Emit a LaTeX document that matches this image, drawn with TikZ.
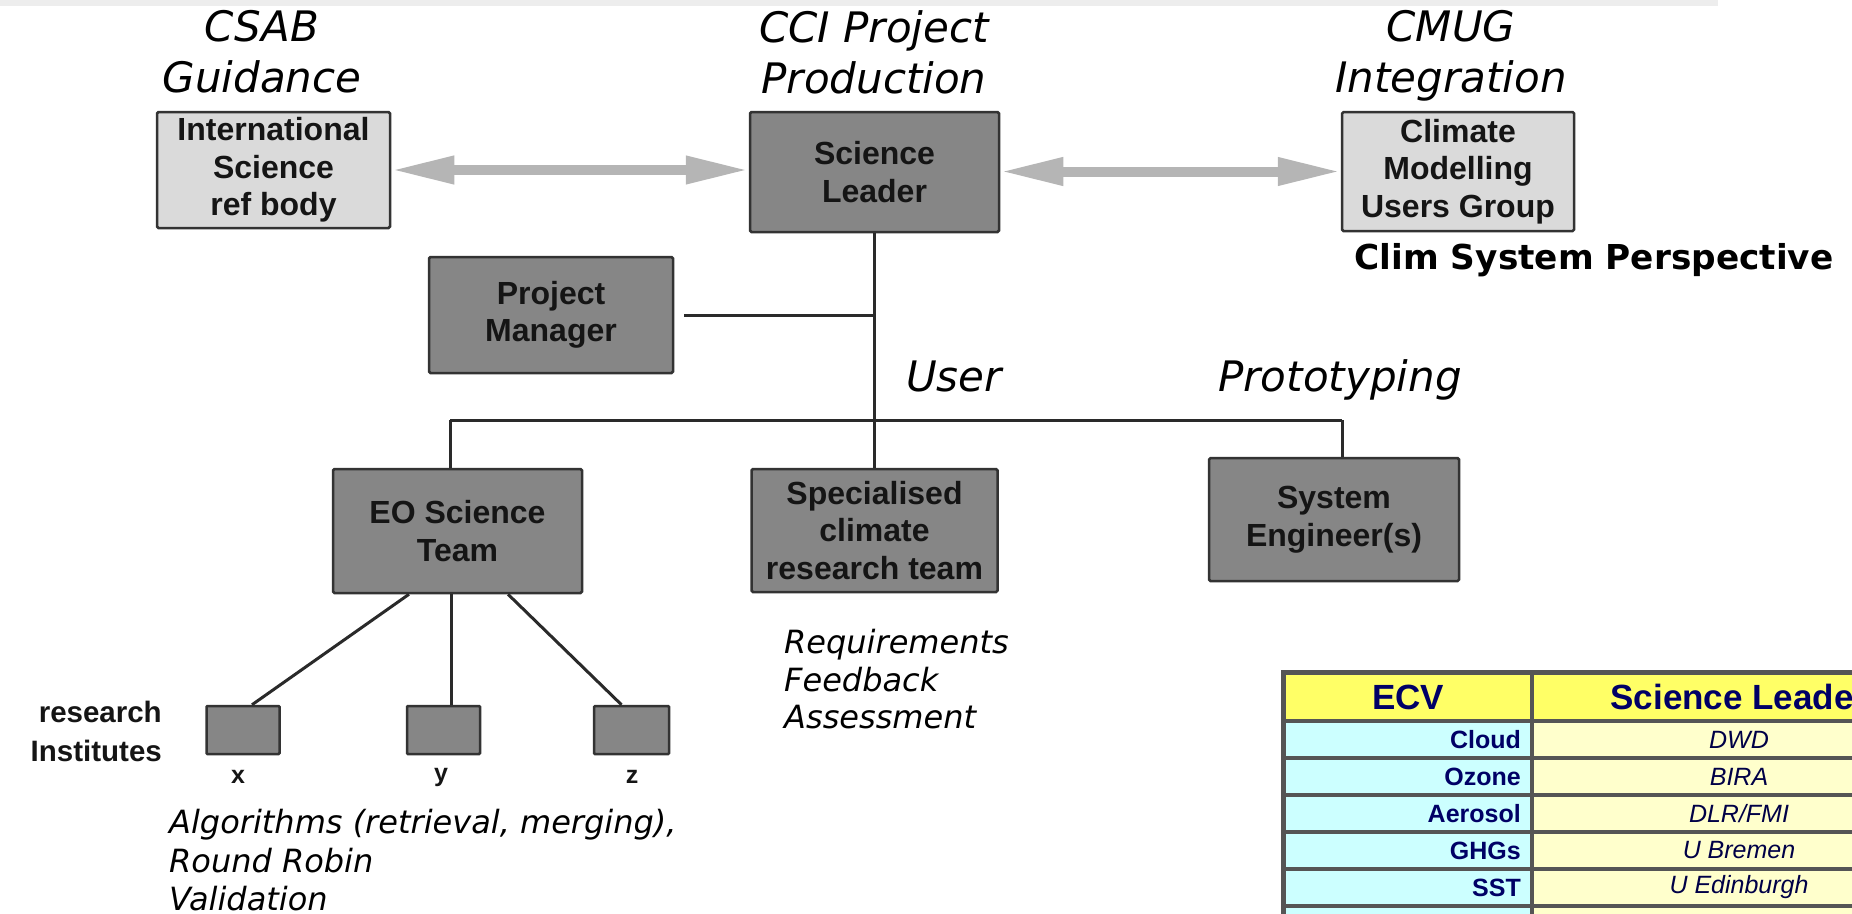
\documentclass[tikz,border=0pt]{standalone}
\usepackage{fontspec}
\setmainfont{Liberation Sans}
\newfontfamily\dvsans{DejaVu Sans}
\usetikzlibrary{arrows.meta}
\definecolor{boxdark}{HTML}{868686}
\definecolor{boxlight}{HTML}{DADADA}
\definecolor{edgecol}{HTML}{333333}
\definecolor{boxtext}{HTML}{151515}
\definecolor{linecol}{HTML}{2A2A2A}
\definecolor{arrowgray}{HTML}{B5B5B5}
\definecolor{hdryellow}{HTML}{FFFF66}
\definecolor{cellcyan}{HTML}{CCFFFF}
\definecolor{cellpale}{HTML}{FFFFCC}
\definecolor{navy}{HTML}{000066}
\definecolor{gridgray}{HTML}{555555}
\newcommand\bxfont{\fontsize{32}{37.5}\selectfont\bfseries}
\newcommand\mytitlefont{\dvsans\itshape\fontsize{42}{51}\selectfont}
\newcommand\mynotefont{\dvsans\itshape\fontsize{32}{37.5}\selectfont}
\newcommand\toprl[1]{\rule{0pt}{#1}}
\begin{document}
\begin{tikzpicture}[x=1pt,y=-1pt,
  darkbox/.style={draw=edgecol, fill=boxdark, line width=2.5pt, rounded corners=1.5pt,
    align=center, font=\bxfont, text=boxtext, inner sep=0pt},
  lightbox/.style={darkbox, fill=boxlight},
  smallbox/.style={draw=edgecol, fill=boxdark, line width=2.5pt, rounded corners=1pt,
    minimum width=73pt, minimum height=48pt, inner sep=0pt},
  titletext/.style={font=\mytitlefont, align=center, inner sep=0pt, anchor=north},
  notetext/.style={font=\mynotefont, align=left, inner sep=0pt, anchor=north west},
  conn/.style={draw=linecol, line width=3pt},
  dblarrow/.style={draw=arrowgray, line width=10pt,
    {Triangle[length=63pt,width=26pt]}-{Triangle[length=63pt,width=26pt]}},
  hdr/.style={font=\fontsize{35}{40}\selectfont\bfseries, text=navy, inner sep=0pt},
  ecvname/.style={font=\fontsize{25}{28}\selectfont\bfseries, text=navy, inner sep=0pt, anchor=east},
  leadername/.style={font=\fontsize{25}{28}\selectfont\itshape, text=navy!70!black, inner sep=0pt},
  xyz/.style={font=\fontsize{25}{28}\selectfont\bfseries, text=boxtext, inner sep=0pt}
]
\useasboundingbox (0,0) rectangle (1852,913);
\fill[black!7] (0,0) rectangle (1718,6);

% titles
\node[titletext] (csab) at (262,10) {\toprl{31pt}CSAB\\Guidance};
\node[titletext] (cci) at (874,10) {\toprl{31pt}CCI Project\\Production};
\node[titletext] (cmug) at (1451,10) {\toprl{31pt}CMUG\\Integration};

% top boxes
\node[lightbox, minimum width=233pt, minimum height=116pt] (intl) at (273.5,170)
  {International\\Science\\ref body};
\node[darkbox, minimum width=249pt, minimum height=120pt] (sl) at (874.5,172)
  {Science\\Leader};
\node[lightbox, minimum width=232pt, minimum height=119pt] (cmg) at (1458,171.5)
  {Climate\\Modelling\\Users Group};
\node[font=\dvsans\bfseries\fontsize{34.3}{38}\selectfont, inner sep=0pt, anchor=base] (clim)
  at (1594,269) {Clim System Perspective};

\draw[dblarrow] (intl.east) -- (intl.east -| sl.west);
\draw[dblarrow] (sl.east |- cmg.west) -- (cmg.west);

% project manager
\node[darkbox, minimum width=244pt, minimum height=116pt] (pm) at (551,315)
  {Project\\Manager};

% second level boxes
\node[darkbox, minimum width=249pt, minimum height=124pt] (eo) at (457.5,531)
  {EO Science\\Team};
\node[darkbox, minimum width=246pt, minimum height=123pt] (spec) at (874.5,530.5)
  {Specialised\\climate\\research team};
\node[darkbox, minimum width=250pt, minimum height=123pt] (syse) at (1334,519.5)
  {System\\Engineer(s)};

% connectors
\coordinate (busL) at (450,420);
\coordinate (busR) at (1342,420);
\draw[conn] (sl.south) -- (spec.north);
\draw[conn] ([xshift=10pt]pm.east) -- (pm.east -| sl.south);
\draw[conn] (busL) -- (busR);
\draw[conn] (busL) -- (busL |- eo.north);
\draw[conn] (busR) -- (busR |- syse.north);

\node[font=\mytitlefont, inner sep=0pt, anchor=base] (user) at (954,391) {User};
\node[font=\mytitlefont, inner sep=0pt, anchor=base] (proto) at (1340,391) {Prototyping};

% research institutes
\node[smallbox] (rx) at (243,730) {};
\node[smallbox] (ry) at (443.5,730) {};
\node[smallbox, minimum width=75pt] (rz) at (631.5,730) {};
\draw[conn] ([xshift=-48.5pt]eo.south) -- ([xshift=9pt]rx.north);
\draw[conn] ([xshift=-6.5pt]eo.south) -- ([xshift=-6.5pt]eo.south |- ry.north);
\draw[conn] ([xshift=50.5pt]eo.south) -- ([xshift=-10pt]rz.north);
\node[xyz] (lx) at (238,777) {x};
\node[xyz] (ly) at (441,777) {y};
\node[xyz] (lz) at (632,777) {z};
\node[font=\fontsize{29.5}{39}\selectfont\bfseries, text=boxtext, align=right, inner sep=0pt,
  anchor=north east] (ri) at (162,701) {\toprl{21pt}research\\Institutes};

% notes
\node[notetext] (req) at (784,629) {\toprl{24pt}Requirements\\Feedback\\Assessment};
\node[notetext, font=\dvsans\itshape\fontsize{32}{38.5}\selectfont] (alg) at (169,809)
  {\toprl{24pt}Algorithms (retrieval, merging),\\Round Robin\\Validation};

% table
\begin{scope}
\clip (0,0) rectangle (1852,913);
\fill[hdryellow] (1283,672) rectangle (1946,721);
\fill[cellcyan] (1283,721) rectangle (1532,943);
\fill[cellpale] (1532,721) rectangle (1946,943);
\foreach \yy in {721,758,795,832,869,906}
  \draw[gridgray, line width=4pt] (1283,\yy) -- (1946,\yy);
\draw[gridgray, line width=4pt] (1532,672) -- (1532,943);
\draw[gridgray, line width=5pt] (1283,672) rectangle (1946,943);
\node[hdr] (ecvh) at (1408,697) {ECV};
\node[hdr] (slh) at (1739,697) {Science Leader};
\node[ecvname] (e1) at (1521,739.5) {Cloud};
\node[ecvname] (e2) at (1521,776.5) {Ozone};
\node[ecvname] (e3) at (1521,813.5) {Aerosol};
\node[ecvname] (e4) at (1521,850.5) {GHGs};
\node[ecvname] (e5) at (1521,887.5) {SST};
\node[leadername] (l1) at (1739,739.5) {DWD};
\node[leadername] (l2) at (1739,776.5) {BIRA};
\node[leadername] (l3) at (1739,813.5) {DLR/FMI};
\node[leadername] (l4) at (1739,850.5) {U Bremen};
\node[leadername] (l5) at (1739,887.5) {U Edinburgh};
\end{scope}
\end{tikzpicture}
\end{document}
